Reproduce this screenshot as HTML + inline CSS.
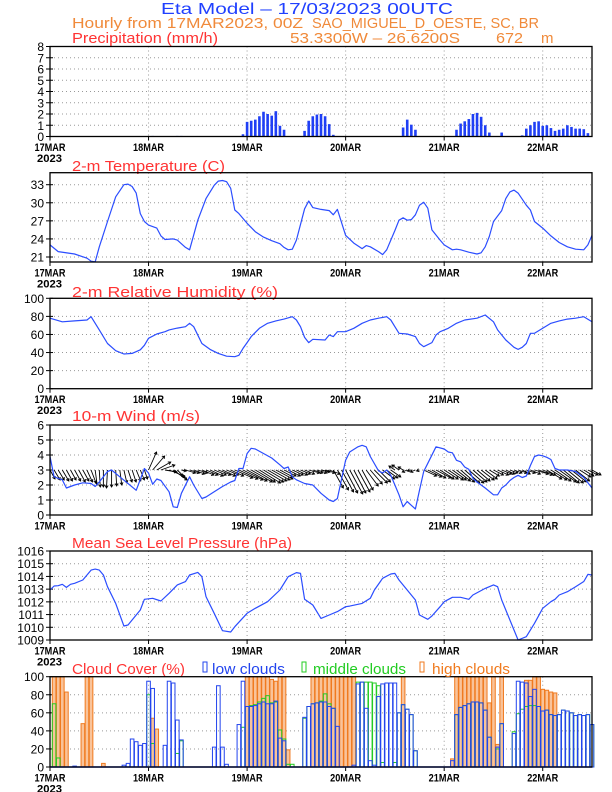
<!DOCTYPE html>
<html><head><meta charset="utf-8"><style>
html,body{margin:0;padding:0;background:#fff}
svg{display:block;font-family:"Liberation Sans",sans-serif}
</style></head><body>
<svg id="chart" width="612" height="792" viewBox="0 0 612 792" xmlns="http://www.w3.org/2000/svg">
<rect width="612" height="792" fill="#fff"/>
<text x="161" y="14" font-size="16" fill="#2040ff" textLength="292" lengthAdjust="spacingAndGlyphs">Eta Model – 17/03/2023 00UTC</text>
<text x="72" y="28" font-size="15" fill="#f08a3a" textLength="231" lengthAdjust="spacingAndGlyphs">Hourly from 17MAR2023, 00Z</text>
<text x="312" y="28" font-size="15" fill="#f08a3a" textLength="227" lengthAdjust="spacingAndGlyphs">SAO_MIGUEL_D_OESTE, SC, BR</text>
<text x="290" y="43" font-size="15" fill="#f08a3a" textLength="170" lengthAdjust="spacingAndGlyphs">53.3300W – 26.6200S</text>
<text x="496" y="43" font-size="15" fill="#f08a3a" textLength="27" lengthAdjust="spacingAndGlyphs">672</text>
<text x="541" y="43" font-size="15" fill="#f08a3a">m</text>
<g id="layer"></g>
</svg>
<script>
// ---------- DATA ----------
const dayLabels = ["17MAR","18MAR","19MAR","20MAR","21MAR","22MAR"];
const precipHours = [25,31,32,47,48,49,50,51,52,53,54,55,56,57,62,63,64,65,66,67,68,69,86,87,88,89,99,100,101,102,103,104,105,106,107,110,115,116,117,118,119,120,121,122,123,124,125,126,127,128,129,130,131];
const precipVals = [0.05,0.05,0.05,0.2,1.3,1.4,1.5,1.8,2.2,2.0,1.85,2.25,0.95,0.6,0.5,1.4,1.8,1.95,2.0,1.8,1.1,0.15,0.8,1.5,1.05,0.6,0.6,1.15,1.35,1.55,2.0,2.1,1.75,1.0,0.35,0.35,0.1,0.7,1.0,1.3,1.35,0.95,1.0,0.75,0.5,0.6,0.7,1.0,0.85,0.7,0.7,0.65,0.3];
const tempHours = [0,2,6,9,10,11,12,14,16,18,19,20,21,22,23,24,26,27,28,30,31,33,34,36,38,40,41,42,43,44,45,46,48,50,52,54,56,57,58,59,60,62,63,64,66,68,69,70,72,74,76,77,78,80,81,82,84,85,86,87,88,89,90,91,92,93,95,96,98,99,100,102,104,105,106,107,108,110,111,112,113,114,116,117,118,120,122,124,126,128,130,131,132];
const tempVals = [23,21.9,21.5,20.8,20.3,20.2,22.7,26.9,31,33,33.1,32.7,31.6,28.2,26.9,26.3,25.8,24.5,23.9,24,23.8,22.6,22.2,27.1,30.7,32.9,33.6,33.7,33.5,32.4,28.8,28.2,26.6,25.2,24.3,23.7,23.2,22.6,22.2,22.3,23.8,29,30.3,29.2,28.9,28.7,28,28.9,24.6,23.3,22.4,22.9,22.7,21.9,21.4,22.2,25.4,27.1,27.5,27.1,27.2,28,29.6,30.1,29.1,25.5,23.8,23,22.2,22.3,22.2,21.8,21.5,21.7,22.7,24.4,26.9,28.7,30.7,31.8,32.1,31.6,29.6,28.8,26.9,25.8,24.5,23.4,22.7,22.3,22.2,23,24.6];
const tempTicks = [21,24,27,30,33];
const rhHours = [0,3,6,9,10,12,14,16,18,20,22,23,24,26,28,29,31,33,34,35,37,39,41,43,45,46,47,48,49,51,53,55,57,59,60,61,62,63,64,67,68,69,70,72,74,76,78,80,82,83,84,85,87,89,90,91,93,94,95,97,99,101,104,106,108,109,111,113,114,115,116,117,118,120,122,124,126,128,130,132];
const rhVals = [78,74,75,76,79.7,65,50,42,38.4,39,43,48,55.7,60.5,63,65,67,68.6,72.3,68.6,50,43.5,39,36,35.4,37,44.6,51,57.6,66.8,72.3,75,77,79.7,76,68.6,56.8,51,54.6,53.9,59.4,57.6,63,63,66.8,72.3,76,78,79.7,76,68.6,61.3,60.5,57.6,50,46.5,51,59.4,63,66.8,72.3,76,78,81.5,74,65,53.9,45.8,43.5,45.8,50,61.3,61.3,66.8,72.3,75,77,78,79.7,74];
const windHours = [0,1,2,3,4,6,8,10,11,12,14,15,17,19,21,23,24,25,26,27,29,30,31,32,34,35,37,38,40,42,44,45,46,47,48,49,50,52,54,56,57,58,59,60,62,64,66,68,69,70,72,73,75,76,77,78,80,81,82,83,84,85,86,87,88,89,90,91,92,94,96,97,98,99,100,101,102,103,104,106,108,109,110,111,112,113,114,115,116,117,118,119,120,121,122,123,124,126,128,130,132];
const windVals = [3.9,2.55,2.45,2.35,1.8,2,2.15,2.1,1.9,2.2,2.9,3,2.55,2.1,1.65,3.1,2.8,2.05,2.4,2.3,1.55,0.55,0.5,1.45,2.55,2,1.1,1.2,1.55,1.9,2.2,2.3,3.1,3.1,4.1,4.45,4.4,4.1,3.8,3.35,3.1,3.2,2.55,2.35,2.1,2,1.45,1,0.9,1.1,3.65,4.2,4.55,4.65,4.55,3.9,2.95,2.8,3,2.65,2,1.35,0.55,0.9,0.65,0.4,1.65,2.9,3.45,4.55,4.4,4.2,4.15,3.65,3.55,3.2,3.05,2.45,2.2,1.8,1.35,1.35,1.8,2,2.3,2.5,2.65,2.5,2.6,3.3,3.9,4,3.95,3.85,3.7,3.1,3,3,2.9,2.5,1.8];
const windU = [1.0,1.2,1.2,1.3,1.2,1.1,1.2,1.3,1.2,1.1,1.0, 0.4,0.2,0.0,-0.2,0.0,0.2,0.4, 0.6,0.8,0.8,0.9,0.8,0.6, 1.6,2.4,2.8,2.8,2.4,3.0,2.8,1.6,1.0, 2.0,2.0,2.2,2.0, 2.4,2.4,2.6,2.4,2.5,2.6,2.4,2.6, 3.6,3.8,4.0,4.0,4.2,4.0,4.2,4.0,3.8,3.6,3.4, 2.6,2.4,2.4,2.2,2.2, 2.0,2.0,2.2,2.0, 2.0,1.8,2.0,2.2, 2.0,2.2,2.4,2.4,2.6,2.4,2.4,2.2, 2.4,2.4,2.6,2.4, 2.4,2.2,2.0, -1.2,-1.4,-1.0, -1.0,-0.8,-1.0,-0.6, 2.6,2.8,2.8,3.0,2.8,2.8,3.0,2.8,2.8, 2.8,3.0,3.0,2.8,2.6,2.6,2.4, 2.0,2.0,2.2,2.0,1.8, 1.6,1.6,1.8,1.6,1.8,2.0, 2.8,2.8,2.6, 3.0,3.2,3.2,3.4,3.2,3.2,3.0,2.8, 2.2,2.0,2.0,1.8];
const windV = [-1.8,-2.0,-2.0,-2.2,-2.2,-2.0,-2.2,-2.4,-2.2,-2.4,-2.6, -3.0,-3.4,-3.4,-3.6,-3.4,-3.2,-3.0, -2.6,-2.4,-2.4,-2.2,-2.0,-1.8, 3.6,2.8,1.6,1.0,-0.4,-1.2,-2.0,-1.6,-0.2, -0.6,-0.6,-0.8,-0.6, -1.0,-1.0,-1.2,-1.0,-1.0,-1.2,-1.0,-1.2, -1.6,-1.8,-2.0,-2.2,-2.4,-2.4,-2.6,-2.4,-2.2,-2.0,-1.8, -1.4,-1.2,-1.2,-1.0,-1.0, -0.8,-0.8,-0.6,-0.6, -0.6,-0.4,-0.6,-0.8, -3.6,-4.0,-4.4,-4.6,-4.8,-4.6,-4.4,-4.0, -3.2,-2.8,-2.6,-2.4, -1.8,-1.6,-1.4, 0.8,1.0,0.6, -0.4,-0.2,-0.4,-0.2, -1.2,-1.4,-1.6,-1.6,-1.8,-1.8,-2.0,-2.0,-2.2, -2.4,-2.6,-2.6,-2.4,-2.2,-2.0,-1.8, -1.2,-1.0,-1.0,-0.8,-0.8, -0.6,-0.6,-0.6,-0.8,-0.6,-0.8, -0.8,-1.0,-1.0, -1.8,-2.0,-2.2,-2.4,-2.6,-2.6,-2.4,-2.2, -1.4,-1.2,-1.0,-1.0];
const presHours = [0,1,2,3,4,5,6,8,9,10,11,12,13,14,16,18,19,20,22,23,25,27,29,31,33,34,36,37,38,40,42,44,45,48,50,53,56,58,60,61,62,64,66,68,70,72,73,76,78,79,81,83,84,85,87,89,90,92,93,95,96,98,100,102,103,106,108,109,110,112,114,116,118,120,122,123,124,126,128,130,131,132];
const presVals = [1012.93,1013.25,1013.27,1013.38,1013.14,1013.38,1013.46,1013.72,1014.11,1014.5,1014.58,1014.5,1014.11,1013.19,1011.88,1010.1,1010.18,1010.57,1011.36,1012.2,1012.28,1012.07,1012.67,1013.33,1013.59,1014.11,1014.32,1013.98,1012.41,1011.1,1009.73,1009.63,1010.05,1011.1,1011.49,1012.01,1012.93,1013.98,1014.3,1014.24,1012.2,1011.75,1010.7,1010.97,1011.23,1011.62,1011.67,1011.88,1012.28,1012.93,1013.85,1014.19,1014.24,1013.72,1012.93,1012.15,1010.97,1010.63,1010.89,1011.62,1012.01,1012.36,1012.36,1012.2,1012.54,1013.06,1013.33,1013.19,1012.15,1010.57,1009.0,1009.26,1010.31,1011.49,1012.01,1012.2,1012.54,1012.8,1013.19,1013.6,1014.16,1014.11];
const highHours = [1,2,3,4,8,9,10,13,25,26,48,49,50,51,52,53,54,55,56,57,58,64,65,66,67,68,69,70,71,72,73,74,86,98,99,100,101,102,103,104,105,106,107,108,109,110,116,117,118,119,120,121,122,123];
const highVals = [100,100,100,83,48,100,100,4,54,42,100,100,100,100,100,100,97,95,100,100,19,100,100,100,100,100,100,100,100,100,100,100,100,9,100,100,100,100,100,100,100,100,71,100,25,100,96,96,100,100,86,85,83,82];
const midHours = [1,2,24,25,31,32,47,48,49,50,51,52,53,54,55,56,57,58,59,62,63,64,65,66,67,68,69,75,76,77,78,79,80,81,84,85,86,87,88,89,99,100,101,102,103,104,105,106,107,109,110,113,114,115,116,117,118,119,120,121,122,123,124,125,126,127,128,129,130,131,132];
const midVals = [70,10,80,26,15,29,44,67,68,69,72,76,79,71,72,41,31,3,3,54,67,70,71,73,81,70,65,94,94,94,94,93,90,5,5,60,69,64,58,18,58,66,68,70,72,72,71,63,33,20,48,39,59,64,67,68,68,67,62,63,58,57,58,63,62,60,57,58,57,58,47];
const lowHours = [6,18,19,20,21,22,23,24,25,28,29,30,31,32,40,41,42,43,46,47,48,49,50,51,52,53,54,55,56,57,62,63,64,65,66,67,68,69,70,74,75,76,77,78,79,80,81,82,83,84,85,86,87,88,89,98,99,100,101,102,103,104,105,106,107,109,110,113,114,115,116,117,118,119,120,121,122,123,124,125,126,127,128,129,130,131,132];
const lowVals = [1,2,4,31,28,24,26,95,87,24,95,93,52,30,22,90,22,3,47,95,67,67,68,70,72,70,70,73,32,29,55,67,70,71,72,72,67,65,45,2,92,94,65,7,2,78,92,93,93,93,60,69,64,58,18,7,58,66,68,70,72,72,71,63,33,22,48,37,95,94,93,78,86,67,62,63,58,57,58,63,62,60,57,58,57,58,47];

// ---------- LAYOUT ----------
const NS = "http://www.w3.org/2000/svg";
const layer = document.getElementById('layer');
const X0 = 50, X1 = 592, HMAX = 132;
function xs(h){ return X0 + h*(X1-X0)/HMAX; }
function mk(tag, attrs, parent){
  const e = document.createElementNS(NS, tag);
  for (const k in attrs) e.setAttribute(k, attrs[k]);
  (parent||layer).appendChild(e);
  return e;
}
function makeY(top, bot, vmin, vmax){ return v => bot - (v - vmin)/(vmax - vmin)*(bot - top); }

function panel(name, top, bot, vmin, vmax, ticks, title, titleY, titleLen, showYear){
  const g = mk('g', {});
  
  
  const y = makeY(top, bot, vmin, vmax);
  ticks.forEach(t => {
    if (t === vmin || t === vmax) return;
    const l = mk('line', {x1:X0, x2:X1, y1:y(t), y2:y(t), stroke:'#999', 'stroke-width':1, 'stroke-dasharray':'1,3'}, g);
    
    
  });
  for (let d=1; d<dayLabels.length; d++){
    const l = mk('line', {x1:xs(d*24), x2:xs(d*24), y1:top, y2:bot, stroke:'#999', 'stroke-width':1, 'stroke-dasharray':'1,3'}, g);
    
    
  }
  ticks.forEach(t => {
    mk('line', {x1:X0-4, x2:X0+3, y1:y(t), y2:y(t), stroke:'#000', 'stroke-width':1}, g);
    const tx = mk('text', {x:X0-6, y:y(t)+4.5, 'font-size':12, 'text-anchor':'end', fill:'#000'}, g);
    
    
    tx.textContent = t;
  });
  dayLabels.forEach((lab, d) => {
    const xx = xs(d*24);
    mk('line', {x1:xx, x2:xx, y1:bot, y2:bot+4, stroke:'#000', 'stroke-width':1}, g);
    const tx = mk('text', {x:xx-15.5, y:bot+14.5, 'font-size':11, fill:'#000', 'font-weight':'bold', textLength:31, lengthAdjust:'spacingAndGlyphs'}, g);
    
    
    tx.textContent = lab;
  });
  if (showYear){
    const yr = mk('text', {x:X0-13, y:bot+25.5, 'font-size':11, fill:'#000', 'font-weight':'bold', textLength:25, lengthAdjust:'spacingAndGlyphs'}, g);
    
    
    yr.textContent = '2023';
  }
  if (title){
    const tt = mk('text', {x:72, y:titleY, 'font-size':15, fill:'#ff3333', textLength:titleLen, lengthAdjust:'spacingAndGlyphs'}, g);
    
    
    tt.textContent = title;
  }
  const plot = mk('g', {}, g);
  
  
  return {g, plot, y, top, bot};
}
function frame(p, name){
  const r = mk('rect', {x:X0, y:p.top, width:X1-X0, height:p.bot-p.top, fill:'none', stroke:'#000', 'stroke-width':1.3}, p.g);
  
  
}
function linePath(p, hours, vals, name){
  let d = '';
  hours.forEach((h,i) => { d += (i?'L':'M') + xs(h).toFixed(1) + ',' + p.y(vals[i]).toFixed(1); });
  const e = mk('path', {d, fill:'none', stroke:'#2b4dff', 'stroke-width':1.2, 'stroke-linejoin':'round'}, p.plot);
  
  
}

// Precipitation
const pp = panel('precip', 46.5, 136.5, 0, 8, [0,1,2,3,4,5,6,7,8], 'Precipitation (mm/h)', 43, 146, true);
precipHours.forEach((h,i) => {
  const y0 = pp.y(0), y1 = pp.y(precipVals[i]);
  const b = mk('rect', {x:xs(h)-1.3, y:y1, width:2.6, height:Math.max(0.5,y0-y1), fill:'#1f3ff5'}, pp.plot);
  
  
});
frame(pp, 'precip');

// Temperature
const tp = panel('temp', 172.7, 262, 21 - 5/6.025, 33 + 12/6.025, tempTicks, '2-m Temperature (C)', 171, 153, true);
linePath(tp, tempHours, tempVals, 'temperature-line');
frame(tp, 'temp');

// RH
const rp = panel('rh', 298.3, 388.7, 0, 100, [0,20,40,60,80,100], '2-m Relative Humidity (%)', 297, 206, true);
linePath(rp, rhHours, rhVals, 'humidity-line');
frame(rp, 'rh');

// Wind
const wp = panel('wind', 425, 515, 0, 6, [0,1,2,3,4,5,6], '10-m Wind (m/s)', 421, 128, false);
const AS = 5;
windU.forEach((u,h) => {
  const v = windV[h];
  const x0 = xs(h), y0 = wp.y(3);
  const x1 = x0 + u*AS, y1 = y0 - v*AS;
  const ang = Math.atan2(y1-y0, x1-x0);
  const a1 = ang + 2.6, a2 = ang - 2.6;
  const arrow = mk('path', {d:`M${x0},${y0}L${x1},${y1}M${x1+3*Math.cos(a1)},${y1+3*Math.sin(a1)}L${x1},${y1}L${x1+3*Math.cos(a2)},${y1+3*Math.sin(a2)}`, stroke:'#000', 'stroke-width':0.9, fill:'none'}, wp.plot);
  
  
});
linePath(wp, windHours, windVals, 'wind-speed-line');
frame(wp, 'wind');

// Pressure
const prp = panel('pressure', 551, 640, 1009, 1016, [1009,1010,1011,1012,1013,1014,1015,1016], 'Mean Sea Level Pressure (hPa)', 548, 220, true);
linePath(prp, presHours, presVals, 'pressure-line');
frame(prp, 'pressure');

// Cloud
const cp = panel('cloud', 676.7, 767, 0, 100, [0,20,40,60,80,100], 'Cloud Cover (%)', 674, 113, true);
function cloudBars(hours, vals, fill, stroke, name){
  hours.forEach((h,i) => {
    const y0 = cp.y(0), y1 = cp.y(vals[i]);
    const b = mk('rect', {x:xs(h)-1.8, y:y1, width:3.6, height:y0-y1, fill, stroke, 'stroke-width':1}, cp.plot);
    
    
  });
}
cloudBars(highHours, highVals, '#f9c39a', '#f07a1e', 'high-cloud-bar');
cloudBars(midHours, midVals, 'none', '#22cc22', 'middle-cloud-bar');
cloudBars(lowHours, lowVals, 'none', '#2244ee', 'low-cloud-bar');
mk('line', {x1:X0, x2:X1, y1:cp.y(0), y2:cp.y(0), stroke:'#2244ee', 'stroke-width':1.5}, cp.plot);
frame(cp, 'cloud');
const leg = [['low clouds','#2244ee',203,212,73],['middle clouds','#22cc22',302,313,93],['high clouds','#f07a1e',420,432,78]];
leg.forEach(l => {
  const g = mk('g', {}, cp.g);
  
  
  mk('rect', {x:l[2], y:662, width:4, height:10, fill:'none', stroke:l[1], 'stroke-width':1}, g);
  const t = mk('text', {x:l[3], y:674, 'font-size':15, fill:l[1], textLength:l[4], lengthAdjust:'spacingAndGlyphs'}, g);
  t.textContent = l[0];
});
</script>
</body></html>
